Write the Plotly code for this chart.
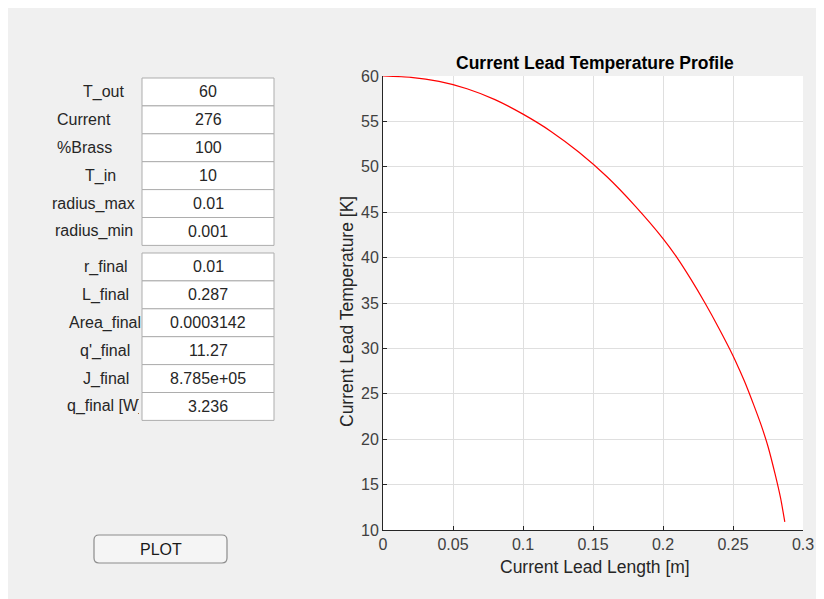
import plotly.graph_objects as go

# ---------------- data ----------------
lead_length = [0, 0.02, 0.04, 0.06, 0.08, 0.10, 0.12, 0.14, 0.16, 0.18, 0.20,
               0.21, 0.22, 0.23, 0.24, 0.25, 0.255, 0.26, 0.265, 0.27, 0.275,
               0.28, 0.284, 0.287]
temperature = [60, 59.85, 59.4, 58.6, 57.4, 55.8, 53.9, 51.6, 48.9, 45.7, 42.1,
               40.0, 37.6, 35.0, 32.2, 29.2, 27.5, 25.7, 23.7, 21.6, 19.2,
               16.2, 13.5, 10.9]

input_labels = ["T_out", "Current", "%Brass", "T_in", "radius_max", "radius_min"]
input_values = ["60", "276", "100", "10", "0.01", "0.001"]
output_labels = ["r_final", "L_final", "Area_final", "q'_final", "J_final", "q_final [W]"]
output_values = ["0.01", "0.287", "0.0003142", "11.27", "8.785e+05", "3.236"]

x_tick_vals = [0, 0.05, 0.1, 0.15, 0.2, 0.25, 0.3]
x_tick_text = ["0", "0.05", "0.1", "0.15", "0.2", "0.25", "0.3"]
y_tick_vals = [10, 15, 20, 25, 30, 35, 40, 45, 50, 55, 60]

# ---------------- layout geometry (screen pixels; page has 8px body margin) ----------------
OX, OY = 8, 8
W, H = 808, 591
PL, PR, PT, PB = 383, 803, 76, 530  # plot area in screen pixels


def px(x):
    return (x - PL) / (PR - PL)


def py(y):
    return (PB - y) / (PB - PT)


FONT = "Liberation Sans, Arial, Helvetica, sans-serif"
GRAY_BG = "#f0f0f0"
TXT = "#262626"

fig = go.Figure()
fig.add_trace(go.Scatter(x=lead_length, y=temperature, mode="lines",
                         line=dict(color="#ff0000", width=1.2, shape="spline", smoothing=0.6),
                         hoverinfo="skip", showlegend=False))

shapes = []
annotations = []

# input / output boxes
box_x0, box_x1 = 142, 274
group_tops = [78, 253]
row_h = 27.9
label_centers = [[103, 84, 84, 100, 93.7, 93.7], [106, 105.5, 104.7, 104.7, 106, 105]]
for g, (labels, values) in enumerate([(input_labels, input_values), (output_labels, output_values)]):
    top = group_tops[g]
    for i, (lab, val) in enumerate(zip(labels, values)):
        y0 = top + i * row_h
        y1 = y0 + row_h
        yc = (y0 + y1) / 2
        shapes.append(dict(type="rect", xref="paper", yref="paper",
                           x0=px(box_x0), x1=px(box_x1), y0=py(y1), y1=py(y0),
                           fillcolor="white", line=dict(color="#adadad", width=1), layer="above"))
        annotations.append(dict(xref="paper", yref="paper", x=px((box_x0 + box_x1) / 2), y=py(yc),
                                text=val, showarrow=False, xanchor="center", yanchor="middle",
                                font=dict(family=FONT, size=16, color=TXT)))
        lc = label_centers[g][i]
        if lab == "q_final [W]":
            annotations.append(dict(xref="paper", yref="paper", x=px(141), y=py(yc),
                                    text=lab, showarrow=False, xanchor="right", yanchor="middle",
                                    width=72, align="left",
                                    font=dict(family=FONT, size=16, color=TXT)))
        else:
            annotations.append(dict(xref="paper", yref="paper", x=px(lc), y=py(yc),
                                    text=lab, showarrow=False, xanchor="center", yanchor="middle",
                                    font=dict(family=FONT, size=16, color=TXT)))

# PLOT button (rounded rect)
bx0, bx1, by0, by1, r = 94, 227, 535, 563, 5
path = (f"M {px(bx0 + r)} {py(by0)} L {px(bx1 - r)} {py(by0)} "
        f"Q {px(bx1)} {py(by0)} {px(bx1)} {py(by0 + r)} "
        f"L {px(bx1)} {py(by1 - r)} Q {px(bx1)} {py(by1)} {px(bx1 - r)} {py(by1)} "
        f"L {px(bx0 + r)} {py(by1)} Q {px(bx0)} {py(by1)} {px(bx0)} {py(by1 - r)} "
        f"L {px(bx0)} {py(by0 + r)} Q {px(bx0)} {py(by0)} {px(bx0 + r)} {py(by0)} Z")
shapes.append(dict(type="path", xref="paper", yref="paper", path=path,
                   fillcolor="#f5f5f5", line=dict(color="#8c8c8c", width=1.2), layer="above"))
annotations.append(dict(xref="paper", yref="paper", x=px((bx0 + bx1) / 2), y=py((by0 + by1) / 2),
                        text="PLOT", showarrow=False, xanchor="center", yanchor="middle",
                        font=dict(family=FONT, size=16, color="#1a1a1a")))

# chart title and axis titles
annotations.append(dict(xref="paper", yref="paper", x=px(595), y=py(63),
                        text="<b>Current Lead Temperature Profile</b>", showarrow=False,
                        xanchor="center", yanchor="middle",
                        font=dict(family=FONT, size=17.5, color="#000000")))
annotations.append(dict(xref="paper", yref="paper", x=px(595), y=py(567),
                        text="Current Lead Length [m]", showarrow=False,
                        xanchor="center", yanchor="middle",
                        font=dict(family=FONT, size=17.5, color=TXT)))
annotations.append(dict(xref="paper", yref="paper", x=px(347), y=py(312),
                        text="Current Lead Temperature [K]", showarrow=False, textangle=-90,
                        xanchor="center", yanchor="middle",
                        font=dict(family=FONT, size=17.5, color=TXT)))

axis_common = dict(showgrid=True, gridcolor="#dfdfdf", gridwidth=1,
                   showline=True, linecolor="#262626", linewidth=1,
                   ticks="inside", ticklen=4, tickcolor="#262626",
                   tickfont=dict(family=FONT, size=16, color="#404040"),
                   zeroline=False, mirror=False, ticklabeloverflow="allow",
                   automargin=False)

fig.update_layout(
    width=W, height=H, autosize=False,
    margin=dict(l=PL - OX, r=W + OX - PR, t=PT - OY, b=H + OY - PB, pad=0),
    paper_bgcolor=GRAY_BG, plot_bgcolor="white",
    showlegend=False,
    xaxis=dict(range=[0, 0.3], tickvals=x_tick_vals, ticktext=x_tick_text, **axis_common),
    yaxis=dict(range=[10, 60], tickvals=y_tick_vals, **axis_common),
    shapes=shapes,
    annotations=annotations,
)

fig.write_html("out.html")
